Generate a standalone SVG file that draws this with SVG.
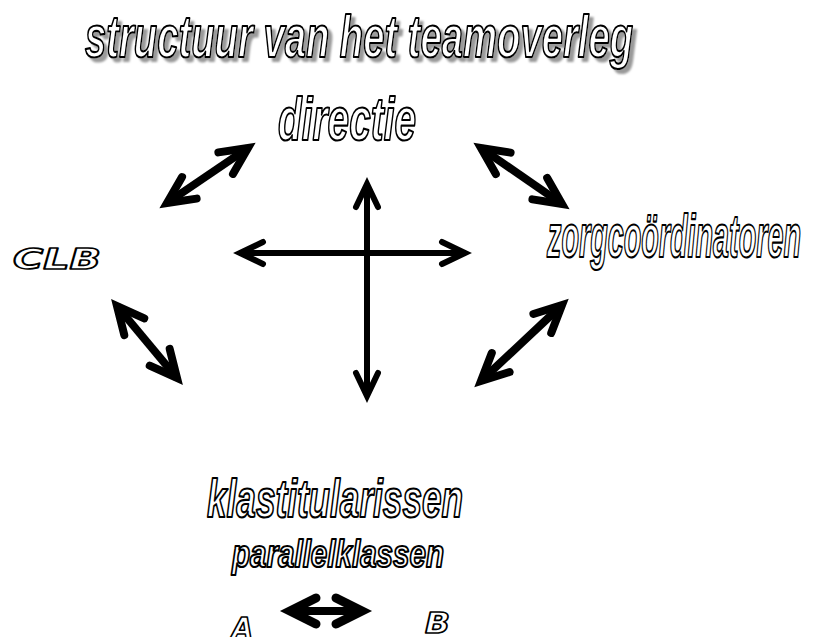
<svg xmlns="http://www.w3.org/2000/svg" width="814" height="637" viewBox="0 0 814 637">
<style>
.w{font-family:"Liberation Sans",Arial,sans-serif;font-weight:bold;font-style:italic;fill:#fff;stroke:#000;stroke-width:2.2;stroke-linejoin:round}
.x{font-family:"DejaVu Sans",Verdana,sans-serif;font-weight:bold;font-style:italic;fill:#fff;stroke:#000;stroke-width:1.6;stroke-linejoin:round}
.c6{stroke:#000;stroke-width:6;fill:none;marker-start:url(#h6);marker-end:url(#h6)}
.c8{stroke:#000;stroke-width:8;fill:none;marker-start:url(#h8);marker-end:url(#h8)}
.c9{stroke:#000;stroke-width:8;fill:none;marker-start:url(#h9);marker-end:url(#h9)}
</style>
<defs>
<filter id="shadow" x="-5%" y="-20%" width="110%" height="150%">
<feDropShadow dx="4" dy="4" stdDeviation="0.8" flood-color="#9a9a9a" flood-opacity="1"/>
</filter>
<marker id="h6" markerUnits="userSpaceOnUse" orient="auto-start-reverse" refX="0" refY="0" markerWidth="1" markerHeight="1" overflow="visible" viewBox="0 0 1 1">
<path d="M-23,-11 L0,0 L-23,11" fill="none" stroke="#000" stroke-width="6" stroke-linecap="round" stroke-linejoin="miter"/>
</marker>
<marker id="h8" markerUnits="userSpaceOnUse" orient="auto-start-reverse" refX="0" refY="0" markerWidth="1" markerHeight="1" overflow="visible" viewBox="0 0 1 1">
<path d="M-27,-13 L0,0 L-27,13" fill="none" stroke="#000" stroke-width="8" stroke-linecap="round" stroke-linejoin="miter"/>
<path d="M-14,-6 L0,0 L-14,6 Z" fill="#000"/>
</marker>
<marker id="h9" markerUnits="userSpaceOnUse" orient="auto-start-reverse" refX="0" refY="0" markerWidth="1" markerHeight="1" overflow="visible" viewBox="0 0 1 1">
<path d="M-26,-13 L0,0 L-26,13" fill="none" stroke="#000" stroke-width="9" stroke-linecap="round" stroke-linejoin="miter"/>
<path d="M-14,-6 L0,0 L-14,6 Z" fill="#000"/>
</marker>
</defs>
<rect width="814" height="637" fill="#fff"/>
<g id="title">
<text class="w" x="85" y="57" font-size="60" textLength="548" lengthAdjust="spacingAndGlyphs" filter="url(#shadow)">structuur van het teamoverleg</text>
</g>
<g id="directie"><text class="w" x="278" y="140" font-size="62" textLength="138" lengthAdjust="spacingAndGlyphs">directie</text></g>
<g id="zorgcoordinatoren"><text class="w" x="547" y="257" font-size="62" textLength="254" lengthAdjust="spacingAndGlyphs">zorgcoördinatoren</text></g>
<g id="clb"><text class="x" x="13" y="269" font-size="29" textLength="88" lengthAdjust="spacingAndGlyphs">CLB</text></g>
<g id="klastitularissen">
<text class="w" x="207" y="517" font-size="53" textLength="256" lengthAdjust="spacingAndGlyphs">klastitularissen</text>
<text class="w" x="232" y="567" font-size="39" textLength="212" lengthAdjust="spacingAndGlyphs">parallelklassen</text>
</g>
<g id="a"><text class="x" x="232" y="638" font-size="29" textLength="21" lengthAdjust="spacingAndGlyphs">A</text></g>
<g id="b"><text class="x" x="425" y="633" font-size="29" textLength="25" lengthAdjust="spacingAndGlyphs">B</text></g>
<g id="connectors">
<line class="c6" x1="367" y1="184" x2="367" y2="396"/>
<line class="c6" x1="240" y1="253" x2="465" y2="253"/>
<line class="c8" x1="167" y1="203" x2="248" y2="148"/>
<line class="c8" x1="481" y1="148" x2="562" y2="204"/>
<line class="c8" x1="562" y1="305" x2="481" y2="381"/>
<line class="c8" x1="117" y1="306" x2="177" y2="378"/>
<line class="c9" x1="290" y1="611" x2="362" y2="611"/>
</g>
</svg>
